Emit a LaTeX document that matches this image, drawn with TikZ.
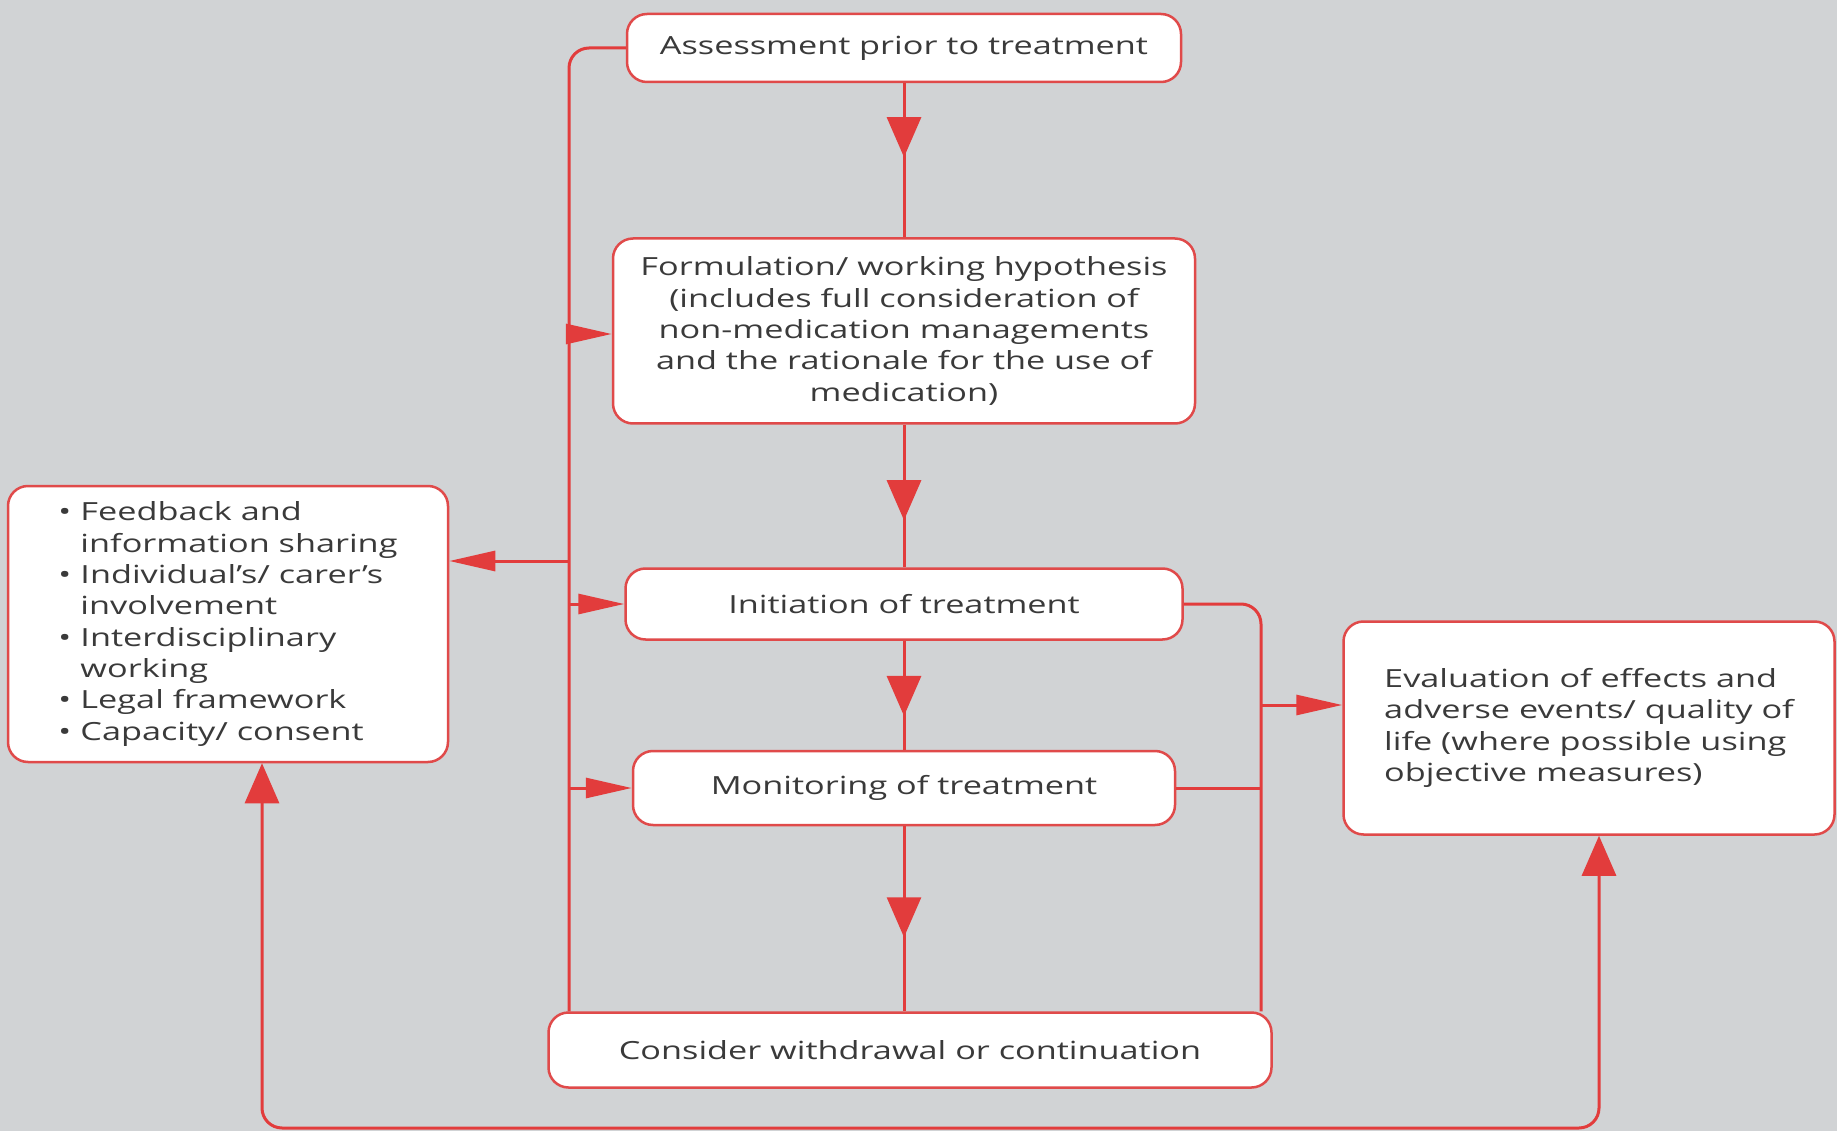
\documentclass[tikz,border=0pt]{standalone}
\usepackage{fontspec}
\setmainfont[FakeStretch=1.37]{Open Sans}
\usetikzlibrary{arrows.meta,decorations.markings,calc}
\definecolor{bg}{HTML}{D1D3D5}
\definecolor{boxred}{HTML}{E04A4A}
\definecolor{linered}{HTML}{E23C3C}
\definecolor{txt}{HTML}{3A3A3A}
\begin{document}
\begin{tikzpicture}[x=1pt,y=-1pt,
  box/.style={draw=boxred, line width=2.5pt, fill=white, rounded corners=20pt,
    text=txt, font=\fontsize{25}{31.3}\selectfont, inner sep=0pt, align=center},
  conn/.style={draw=linered, line width=3pt, rounded corners=20pt},
  vtip/.tip={Triangle[length=40pt,width=34pt]},
  htip/.tip={Triangle[length=46pt,width=20pt]},
  harrow/.style={-{htip}},
  vmid/.style={postaction={decorate}, decoration={markings,
    mark=at position #1 with {\arrow{vtip}}}}]
\fill[bg] (0,0) rectangle (1837,1131);
\useasboundingbox (0,0) rectangle (1837,1131);

\node[box, minimum width=554pt, minimum height=68pt] (assess) at (904,48) {Assessment prior to treatment};
\node[box, minimum width=582pt, minimum height=185pt] (form) at (904,331)
  {Formulation/ working hypothesis\\(includes full consideration of\\non-medication managements\\and the rationale for the use of\\medication)};
\node[box, minimum width=557pt, minimum height=71pt] (init) at (904,604) {Initiation of treatment};
\node[box, minimum width=542pt, minimum height=74pt] (mon) at (904,788) {Monitoring of treatment};
\node[box, minimum width=723pt, minimum height=75pt] (cons) at (910,1050) {Consider withdrawal or continuation};
\node[box, minimum width=440pt, minimum height=276pt, align=left] (lbox) at (228,624)
  {\makebox[22pt][l]{•}Feedback and\\\hspace*{22pt}information sharing\\
   \makebox[22pt][l]{•}Individual’s/ carer’s\\\hspace*{22pt}involvement\\
   \makebox[22pt][l]{•}Interdisciplinary\\\hspace*{22pt}working\\
   \makebox[22pt][l]{•}Legal framework\\
   \makebox[22pt][l]{•}Capacity/ consent};
\node[box, minimum width=491pt, minimum height=213pt, align=left] (eval) at (1589,728)
  {Evaluation of effects and\\adverse events/ quality of\\life (where possible using\\objective measures)};

\coordinate (LT) at (569,0);
\coordinate (RT) at (1261,0);
\coordinate (bF) at (569,334);
\coordinate (bL) at (569,561);
\coordinate (bE) at (1261,705);
\coordinate (BL) at (262,1128);
\coordinate (BR) at (1599,1128);

% left trunk
\draw[conn] (assess.west) -| (LT |- cons.north);
\draw[conn, harrow] (bF) -- (bF -| form.west);
\draw[conn, harrow] (bL) -- (bL -| lbox.east);
\draw[conn, harrow] (init.west -| LT) -- (init.west);
\draw[conn, harrow] (mon.west -| LT) -- (mon.west);

% right trunk
\draw[conn] (init.east) -| (RT |- cons.north);
\draw[conn] (mon.east) -- (mon.east -| RT);
\draw[conn, harrow] (bE) -- (bE -| eval.west);

% centre chain
\draw[conn, vmid=0.48] (assess.south) -- (form.north);
\draw[conn, vmid=0.67] (form.south) -- (init.north);
\draw[conn, vmid=0.69] (init.south) -- (mon.north);
\draw[conn, vmid=0.6] (mon.south) -- (mon.south |- cons.north);

% bottom loop
\draw[conn, {vtip}-{vtip}] (BL |- lbox.south) -- (BL) -- (BR) -- (BR |- eval.south);
\end{tikzpicture}
\end{document}
